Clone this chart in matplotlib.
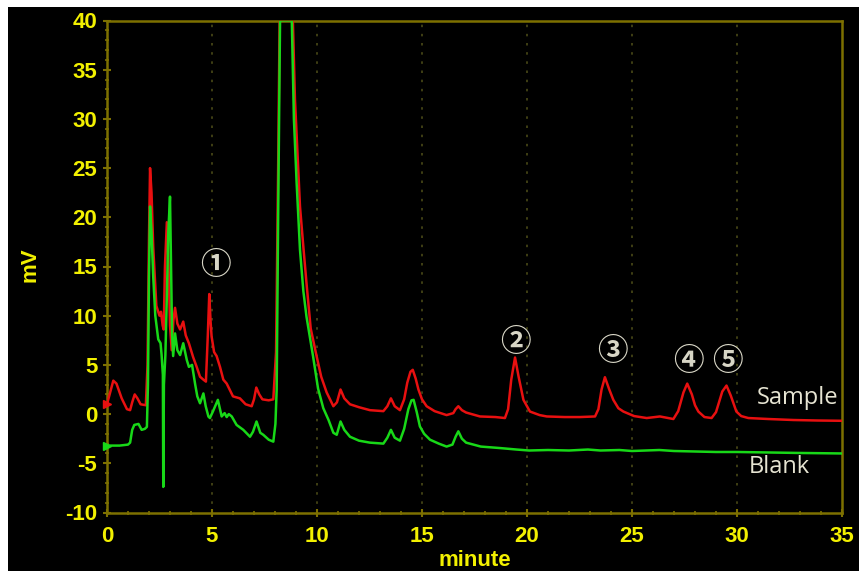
import matplotlib
matplotlib.use("Agg")
import matplotlib.pyplot as plt
from matplotlib.patches import Rectangle

plt.rcParams["axes.unicode_minus"] = False

# retention time (min) / signal (mV)
sample_t = [0.0, 0.15, 0.3, 0.45, 0.7, 0.95, 1.1, 1.2, 1.32, 1.45, 1.6, 1.85, 1.93, 2.0, 2.05,
            2.12, 2.2, 2.35, 2.5, 2.57, 2.65, 2.7, 2.76, 2.85, 2.92, 3.0, 3.08, 3.16, 3.24, 3.35,
            3.48, 3.63, 3.75, 3.9, 4.1, 4.27, 4.43, 4.59, 4.71, 4.8, 4.87, 4.93, 4.98, 5.1, 5.22,
            5.38, 5.54, 5.7, 6.0, 6.33, 6.6, 6.89, 7.0, 7.11, 7.25, 7.4, 7.7, 7.92, 8.05, 8.15,
            8.22, 8.85, 8.95, 9.19, 9.35, 9.5, 9.7, 9.98, 10.2, 10.46, 10.78, 10.95, 11.12, 11.3,
            11.57, 12.0, 12.52, 13.16, 13.35, 13.52, 13.7, 13.95, 14.15, 14.3, 14.45, 14.56, 14.7,
            14.83, 15.0, 15.22, 15.6, 16.17, 16.49, 16.6, 16.73, 16.9, 17.1, 17.76, 18.5, 18.95,
            19.1, 19.25, 19.43, 19.6, 19.83, 20.14, 20.6, 20.94, 21.8, 22.52, 23.24, 23.4, 23.55,
            23.71, 23.9, 24.11, 24.35, 24.59, 25.1, 25.7, 26.33, 26.97, 27.2, 27.45, 27.63, 27.85,
            28.0, 28.16, 28.45, 28.79, 29.0, 29.3, 29.5, 29.7, 29.97, 30.2, 30.54, 31.5, 32.68,
            33.8, 35.0]
sample_mv = [1.0, 2.2, 3.4, 3.1, 1.6, 0.5, 0.4, 1.2, 2.0, 1.6, 1.0, 0.9, 5.0, 18.0, 25.0,
             22.5, 17.0, 11.0, 10.0, 10.4, 9.0, 8.6, 15.0, 19.5, 16.0, 9.0, 6.5, 9.5, 10.8, 9.2,
             8.6, 9.4, 8.0, 7.2, 5.8, 4.8, 3.8, 3.5, 3.3, 8.0, 12.2, 9.5, 7.9, 6.3, 5.9,
             4.8, 3.5, 3.1, 1.8, 1.6, 1.0, 0.8, 1.5, 2.7, 2.0, 1.5, 1.4, 1.5, 6.3, 25.0,
             40.0, 40.0, 32.0, 21.1, 17.0, 13.3, 8.7, 5.9, 3.8, 2.2, 0.8, 1.2, 2.5, 1.6,
             1.0, 0.7, 0.4, 0.3, 0.8, 1.6, 0.8, 0.4, 1.5, 3.2, 4.3, 4.5, 3.6,
             2.5, 1.5, 0.8, 0.3, -0.1, 0.1, 0.5, 0.8, 0.4, 0.16, -0.24, -0.3, -0.4,
             0.5, 3.5, 5.75, 3.8, 1.45, 0.26, -0.1, -0.24, -0.3, -0.3, -0.24, 0.5, 2.5,
             3.75, 2.6, 1.45, 0.6, 0.26, -0.2, -0.4, -0.24, -0.5, 0.3, 2.2, 3.1, 2.0,
             0.9, 0.26, -0.3, -0.4, 0.2, 2.3, 2.9, 1.9, 0.26, -0.2, -0.4, -0.5, -0.6,
             -0.65, -0.68]

blank_t = [0.0, 0.6, 1.0, 1.1, 1.2, 1.3, 1.5, 1.65, 1.8, 1.9, 1.95, 2.0, 2.05, 2.12, 2.2, 2.3,
           2.44, 2.55, 2.6, 2.66, 2.68, 2.71, 2.78, 2.85, 2.92, 3.0, 3.05, 3.1, 3.15, 3.24, 3.35,
           3.48, 3.63, 3.8, 3.9, 4.05, 4.2, 4.3, 4.43, 4.59, 4.7, 4.83, 4.9, 5.05, 5.28, 5.46,
           5.6, 5.7, 5.8, 5.94, 6.17, 6.49, 6.81, 6.95, 7.12, 7.3, 7.44, 7.7, 7.92, 8.02, 8.08,
           8.15, 8.24, 8.8, 8.9, 9.03, 9.19, 9.35, 9.5, 9.81, 10.05, 10.3, 10.55, 10.78, 10.94,
           11.12, 11.3, 11.57, 12.0, 12.52, 13.16, 13.35, 13.52, 13.7, 13.95, 14.15, 14.35, 14.5,
           14.6, 14.75, 14.9, 15.1, 15.38, 15.8, 16.17, 16.45, 16.6, 16.73, 16.9, 17.1, 17.8,
           18.71, 19.5, 20.1, 21.0, 22.0, 22.9, 23.5, 24.4, 25.0, 26.3, 27.0, 28.0, 29.0, 30.0,
           31.5, 33.0, 35.0]
blank_mv = [-3.2, -3.2, -3.1, -2.9, -1.6, -1.1, -1.0, -1.6, -1.5, -1.3, 3.0, 14.0, 21.1, 18.5,
            14.0, 10.0, 7.6, 7.2, 6.0, 4.0, -7.4, 3.0, 6.0, 12.0, 18.5, 22.1, 15.0, 8.0, 5.9,
            8.2, 6.5, 6.0, 7.2, 5.5, 4.8, 5.0, 3.0, 1.8, 1.1, 2.1, 0.8, -0.25, -0.4, 0.3, 1.45,
            -0.24, 0.1, -0.3, 0.0, -0.24, -1.1, -1.6, -2.3, -1.8, -0.75, -1.9, -2.1, -2.6, -2.8,
            -1.0, 2.5, 20.0, 40.0, 40.0, 30.0, 23.5, 16.7, 12.5, 9.9, 5.9, 2.6, 0.6, -0.6, -1.9,
            -2.1, -0.75, -1.6, -2.3, -2.7, -2.9, -3.0, -2.4, -1.6, -2.4, -2.7, -1.5, 0.5, 1.4,
            1.45, 0.2, -1.25, -2.0, -2.6, -3.0, -3.3, -3.1, -2.3, -1.75, -2.5, -2.9, -3.3,
            -3.45, -3.6, -3.7, -3.65, -3.7, -3.6, -3.7, -3.65, -3.75, -3.65, -3.75, -3.8, -3.85,
            -3.85, -3.9, -3.95, -4.0]

peak_labels = ["\u2460", "\u2461", "\u2462", "\u2463", "\u2464"]
peak_t = [5.14, 19.44, 24.05, 27.68, 29.55]
peak_mv = [15.2, 7.35, 6.4, 5.35, 5.35]

YELLOW = "#f2f000"
OLIVE = "#7d7000"
GRIDC = "#4a4a18"
CREAM = "#e6e4d2"

fig = plt.figure(figsize=(8.59, 5.71), dpi=100, facecolor="white")
fig.patches.append(Rectangle((8 / 859, 0), 1, 1 - 7 / 571, transform=fig.transFigure,
                             facecolor="black", edgecolor="none", zorder=-10))
ax = fig.add_axes([107 / 859, 1 - 512.5 / 571, 735 / 859, 492 / 571])
ax.set_facecolor("black")

ax.plot(sample_t, sample_mv, color="#e81010", lw=1.8, zorder=3)
ax.plot(blank_t, blank_mv, color="#18d818", lw=1.8, zorder=4)
ax.plot(sample_t[:1], sample_mv[:1], marker=">", color="#e81010", ms=6, clip_on=False, zorder=5)
ax.plot(blank_t[:1], blank_mv[:1], marker=">", color="#18d818", ms=6, clip_on=False, zorder=5)

for lab, t, v in zip(peak_labels, peak_t, peak_mv):
    ax.text(t, v, lab, color="#d8d6c6", fontsize=22, fontweight="bold", ha="center",
            va="center", family=["Noto Sans CJK JP", "DejaVu Sans"], zorder=6)

ax.text(32.9, 1.6, "Sample", color=CREAM, fontsize=17, family="Open Sans",
        ha="center", va="center", zorder=6)
ax.text(32.0, -5.4, "Blank", color=CREAM, fontsize=17, family="Open Sans",
        ha="center", va="center", zorder=6)

ax.set_xlim(0, 35)
ax.set_ylim(-10, 40)
ax.set_xticks(range(0, 36, 5))
ax.set_yticks(range(-10, 41, 5))
ax.set_xticks(range(0, 36), minor=True)
ax.set_yticks(range(-10, 41), minor=True)
for x in range(5, 35, 5):
    ax.axvline(x, color=GRIDC, lw=1.2, ls=(0, (1.5, 4)), zorder=1)
for s in ax.spines.values():
    s.set_color(OLIVE)
    s.set_linewidth(1.8)
ax.tick_params(which="major", direction="inout", length=6, width=1.5, color=OLIVE,
               labelcolor=YELLOW, labelsize=16)
ax.tick_params(axis="x", which="major", pad=7)
ax.tick_params(axis="y", which="major", pad=4)
ax.tick_params(which="minor", direction="inout", length=3, width=1.2, color=OLIVE)
for lbl in ax.get_xticklabels() + ax.get_yticklabels():
    lbl.set_fontweight("bold")
    lbl.set_family("Liberation Sans")

fig.text(30 / 859, 1 - 265 / 571, "mV", color=YELLOW, fontsize=16, fontweight="bold",
         family="Liberation Sans", rotation=90, ha="center", va="center")
fig.text(475 / 859, 1 - 560 / 571, "minute", color=YELLOW, fontsize=16, fontweight="bold",
         family="Liberation Sans", ha="center", va="center")

fig.savefig("out.png", dpi=100, facecolor=fig.get_facecolor())
